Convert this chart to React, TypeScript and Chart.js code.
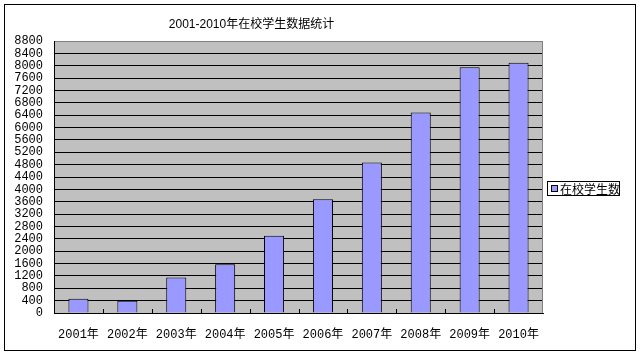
import React, { useEffect, useRef } from "react";
import { Chart, registerables } from "chart.js";

Chart.register(...registerables);

const chartTitle = "2001-2010年在校学生数据统计";
const seriesName = "在校学生数";
const categories = ["2001年", "2002年", "2003年", "2004年", "2005年", "2006年", "2007年", "2008年", "2009年", "2010年"];
const studentCounts = [460, 400, 1150, 1580, 2500, 3680, 4870, 6490, 7950, 8100];
const yMin = 0;
const yMax = 8800;
const yStep = 400;

const plotFrame = {
  id: "plotFrame",
  beforeDraw(chart: any) {
    const { ctx, chartArea } = chart;
    ctx.save();
    ctx.fillStyle = "#C0C0C0";
    ctx.fillRect(chartArea.left, chartArea.top, chartArea.right - chartArea.left, chartArea.bottom - chartArea.top);
    ctx.restore();
  },
  afterDatasetsDraw(chart: any) {
    const { ctx, chartArea } = chart;
    const { left, right, top, bottom } = chartArea;
    ctx.save();
    ctx.lineWidth = 1;
    ctx.strokeStyle = "#808080";
    ctx.beginPath();
    ctx.moveTo(Math.round(right) - 0.5, top);
    ctx.lineTo(Math.round(right) - 0.5, bottom);
    ctx.stroke();
    ctx.strokeStyle = "#000";
    ctx.beginPath();
    ctx.moveTo(left, Math.round(bottom) + 0.5);
    ctx.lineTo(right, Math.round(bottom) + 0.5);
    ctx.stroke();
    const n = categories.length;
    const w = (right - left) / n;
    ctx.beginPath();
    for (let i = 1; i < n; i++) {
      const x = Math.round(left + i * w) + 0.5;
      ctx.moveTo(x, bottom);
      ctx.lineTo(x, bottom - 4);
    }
    ctx.stroke();
    ctx.restore();
  },
};

export default function App() {
  const canvasRef = useRef<HTMLCanvasElement | null>(null);

  useEffect(() => {
    if (!canvasRef.current) return;
    const chart = new Chart(canvasRef.current, {
      type: "bar",
      data: {
        labels: categories,
        datasets: [
          {
            label: seriesName,
            data: studentCounts,
            backgroundColor: "#9999FF",
            borderColor: "#000000",
            borderWidth: 1,
            categoryPercentage: 1,
            barPercentage: 0.41,
          },
        ],
      },
      options: {
        responsive: false,
        animation: false,
        events: [],
        layout: { padding: { left: 0, top: 41, right: 100, bottom: 0 } },
        plugins: {
          legend: { display: false },
          title: { display: false },
          tooltip: { enabled: false },
        },
        scales: {
          x: {
            grid: { display: false },
            border: { display: true, color: "#000", width: 1 },
            ticks: {
              color: "#000",
              padding: 7,
              maxRotation: 0,
              autoSkip: false,
              font: { family: '"Liberation Mono", "Noto Sans CJK SC"', size: 12 },
            },
            afterFit(scale: any) {
              scale.height = 44;
            },
          },
          y: {
            min: yMin,
            max: yMax,
            grid: {
              drawTicks: false,
              lineWidth: 1,
              color: (c: any) => (c.tick && c.tick.value === yMax ? "#808080" : "#000000"),
            },
            border: { display: true, color: "#000", width: 1 },
            ticks: {
              stepSize: yStep,
              autoSkip: false,
              padding: 11,
              color: "#000",
              font: { family: '"Liberation Mono"', size: 12 },
              callback: (v: any) => String(v),
            },
            afterFit(scale: any) {
              scale.width = 54;
            },
          },
        },
      },
      plugins: [plotFrame],
    } as any);
    return () => chart.destroy();
  }, []);

  return (
    <div style={{ position: "absolute", left: 0, top: 0, width: 643, height: 357, background: "#fff" }}>
      <canvas ref={canvasRef} width={643} height={357} style={{ position: "absolute", left: 0, top: 0, width: 643, height: 357 }} />
      <div
        style={{
          position: "absolute",
          left: 4,
          top: 4,
          width: 632,
          height: 347,
          border: "1px solid #000",
          boxSizing: "border-box",
          pointerEvents: "none",
        }}
      />
      <div
        style={{
          position: "absolute",
          left: 0,
          top: 17,
          width: 503,
          textAlign: "center",
          font: '12px "Liberation Sans", "Noto Sans CJK SC"',
          lineHeight: "15px",
          color: "#000",
          whiteSpace: "nowrap",
        }}
      >
        {chartTitle}
      </div>
      <div
        style={{
          position: "absolute",
          left: 547,
          top: 181,
          width: 73,
          height: 15,
          border: "1px solid #000",
          boxSizing: "border-box",
          background: "#fff",
        }}
      >
        <span
          style={{
            position: "absolute",
            left: 3,
            top: 3,
            width: 7,
            height: 7,
            border: "1px solid #000",
            boxSizing: "border-box",
            background: "#9999FF",
          }}
        />
        <span
          style={{
            position: "absolute",
            left: 12,
            top: 0,
            font: '12px "Noto Sans CJK SC"',
            lineHeight: "13px",
            color: "#000",
            whiteSpace: "nowrap",
          }}
        >
          {seriesName}
        </span>
      </div>
    </div>
  );
}
